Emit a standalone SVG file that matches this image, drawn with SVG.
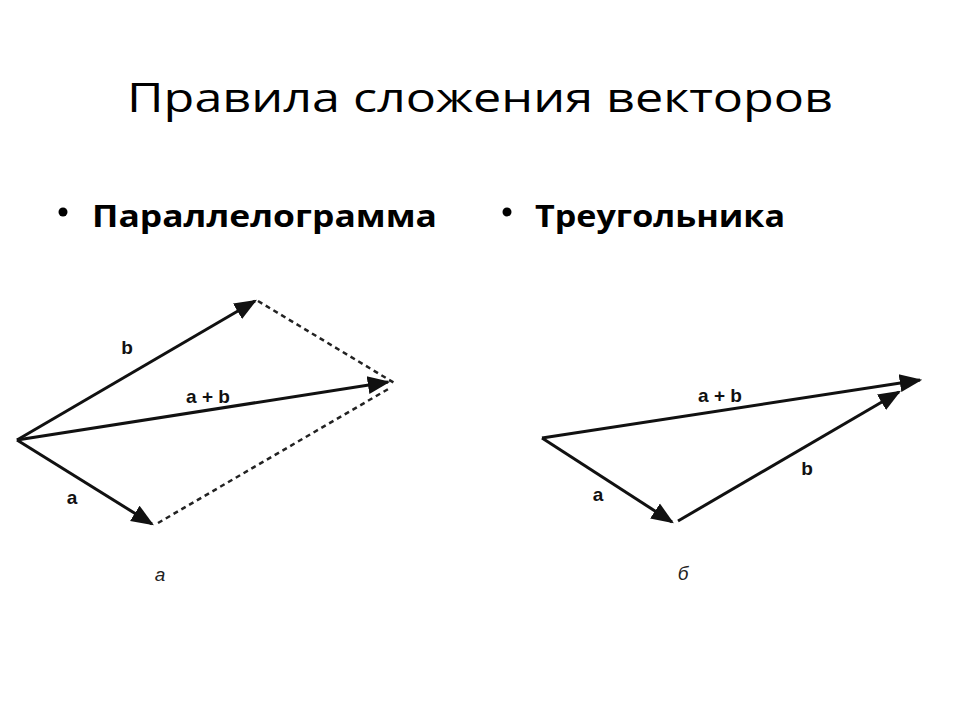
<svg xmlns="http://www.w3.org/2000/svg" width="960" height="720" viewBox="0 0 960 720">
<defs>
<style>
.title{font-family:"Open Sans","Liberation Sans",sans-serif;font-size:40px;fill:#000}
.bul{font-family:"Open Sans","Liberation Sans",sans-serif;font-size:31px;font-weight:bold;fill:#000}
.lbl{font-family:"Liberation Sans",Arial,sans-serif;font-size:19px;font-weight:bold;fill:#111}
.cap{font-family:"Liberation Sans",Arial,sans-serif;font-size:19px;font-style:italic;fill:#222}
.vec{stroke:#111;stroke-width:3;fill:none}
.dash{stroke:#222;stroke-width:2.5;fill:none;stroke-dasharray:5 4}
</style>
<marker id="ahb" viewBox="0 0 10 10" refX="9" refY="5" markerWidth="7.5" markerHeight="7.5" orient="auto">
<path d="M0,1 L10,5 L0,9 Z" fill="#111"/>
</marker>
</defs>
<rect width="960" height="720" fill="#fff"/>
<text class="title" x="480" y="112" text-anchor="middle" textLength="706" lengthAdjust="spacingAndGlyphs">Правила сложения векторов</text>
<g id="bullet1">
<circle cx="63" cy="212" r="4.5" fill="#000"/>
<text class="bul" x="92" y="227" textLength="345" lengthAdjust="spacingAndGlyphs">Параллелограмма</text>
</g>
<g id="bullet2">
<circle cx="507" cy="212" r="4.5" fill="#000"/>
<text class="bul" x="535" y="227" textLength="250" lengthAdjust="spacingAndGlyphs">Треугольника</text>
</g>
<g id="connectors">
<line class="vec" x1="17" y1="440" x2="255" y2="301" marker-end="url(#ahb)"/>
<line class="vec" x1="17" y1="440" x2="388" y2="382" marker-end="url(#ahb)"/>
<line class="vec" x1="17" y1="440" x2="152" y2="524" marker-end="url(#ahb)"/>
<line class="dash" x1="258" y1="301" x2="396" y2="384"/>
<line class="dash" x1="158" y1="523" x2="390" y2="388"/>
<line class="vec" x1="542" y1="438" x2="920" y2="380" marker-end="url(#ahb)"/>
<line class="vec" x1="542" y1="438" x2="672" y2="522" marker-end="url(#ahb)"/>
<line class="vec" x1="678" y1="521" x2="899" y2="392" marker-end="url(#ahb)"/>
</g>
<g id="labels-left">
<text class="lbl" x="127" y="354" text-anchor="middle">b</text>
<text class="lbl" x="208" y="403" text-anchor="middle">a + b</text>
<text class="lbl" x="72" y="504" text-anchor="middle">a</text>
<text class="cap" x="160" y="581" text-anchor="middle">а</text>
</g>
<g id="labels-right">
<text class="lbl" x="720" y="402" text-anchor="middle">a + b</text>
<text class="lbl" x="807" y="475" text-anchor="middle">b</text>
<text class="lbl" x="598" y="501" text-anchor="middle">a</text>
<text class="cap" x="683" y="580" text-anchor="middle">б</text>
</g>
</svg>
